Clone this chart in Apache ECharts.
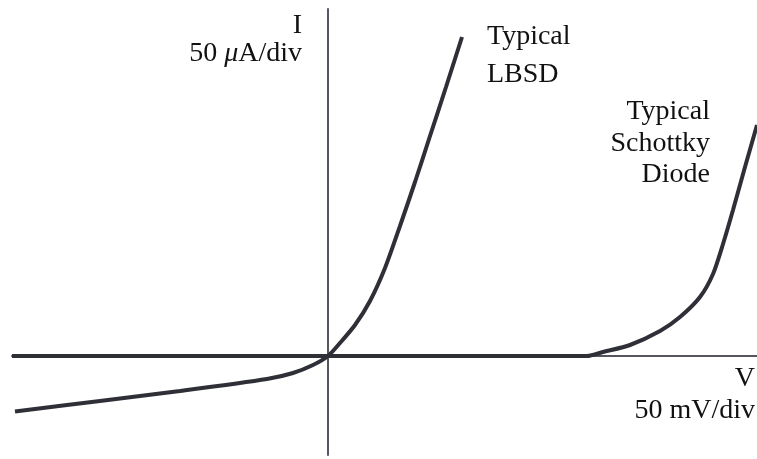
<!DOCTYPE html>
<html>
<head>
<meta charset="utf-8">
<script src="https://cdn.jsdelivr.net/npm/echarts@6/dist/echarts.min.js"></script>
<style>
html,body{margin:0;padding:0;background:#fff;}
#c{width:757px;height:459px;}
</style>
</head>
<body>
<div id="c"></div>
<script>
// Values in plot units (origin at the axes crossing)
var lbsdV = [-313, -228, -148, -61, -35, -15, 0, 12, 27, 42, 57, 72, 87, 102, 118, 134];
var lbsdI = [-55.5, -45, -35, -23, -17, -9, 0, 13, 31, 55, 88, 130, 174, 220, 269, 319];
var schottkyV = [-316, 259, 275, 302, 332, 352, 372, 385, 395, 405, 417, 429];
var schottkyI = [0, 0, 4, 11, 25, 39, 59, 82, 112, 146, 189, 231];
var axisLabelsI = ['I', '50 {it|\u03bc}A/div'];
var axisLabelsV = ['V', '50 mV/div'];
var lbsdLabel = ['Typical', 'LBSD'];
var schottkyLabel = ['Typical', 'Schottky', 'Diode'];

function pairs(xs, ys) { return xs.map(function (x, i) { return [x, ys[i]]; }); }

var font = '"Liberation Serif", "DejaVu Serif", serif';
var txtColor = '#111';
var fs = 28;
function txt(text, x, y, align) {
  return {
    type: 'text', x: x, y: y,
    style: {
      text: text, fill: txtColor, font: fs + 'px ' + font,
      fontFamily: font, fontSize: fs,
      align: align, verticalAlign: 'middle',
      rich: { it: { fontStyle: 'italic', fontFamily: font, fontSize: fs, fill: txtColor } }
    }
  };
}

var chart = echarts.init(document.getElementById('c'), null, { renderer: 'canvas' });
var axisStyle = { show: true, onZero: true, lineStyle: { color: '#55565e', width: 2 } };
chart.setOption({
  animation: false,
  backgroundColor: '#ffffff',
  grid: { left: 12, right: 0, top: 9, bottom: 4 },
  xAxis: {
    type: 'value', min: -316, max: 429,
    axisLine: axisStyle, axisTick: { show: false }, axisLabel: { show: false }, splitLine: { show: false }
  },
  yAxis: {
    type: 'value', min: -99, max: 347,
    axisLine: axisStyle, axisTick: { show: false }, axisLabel: { show: false }, splitLine: { show: false }
  },
  series: [
    {
      type: 'line', name: 'LBSD', data: pairs(lbsdV, lbsdI),
      showSymbol: false, smooth: 0.25,
      lineStyle: { color: '#2e2f37', width: 4 }
    },
    {
      type: 'line', name: 'Schottky', data: pairs(schottkyV, schottkyI),
      showSymbol: false, smooth: 0.25,
      lineStyle: { color: '#2e2f37', width: 4 }
    }
  ],
  graphic: [
    txt(axisLabelsI[0], 302, 26, 'right'),
    txt(axisLabelsI[1], 302, 54, 'right'),
    txt(lbsdLabel[0], 487, 37, 'left'),
    txt(lbsdLabel[1], 487, 75, 'left'),
    txt(schottkyLabel[0], 710, 112, 'right'),
    txt(schottkyLabel[1], 710, 144, 'right'),
    txt(schottkyLabel[2], 710, 175, 'right'),
    txt(axisLabelsV[0], 755, 379, 'right'),
    txt(axisLabelsV[1], 755, 411, 'right')
  ]
});
</script>
</body>
</html>
